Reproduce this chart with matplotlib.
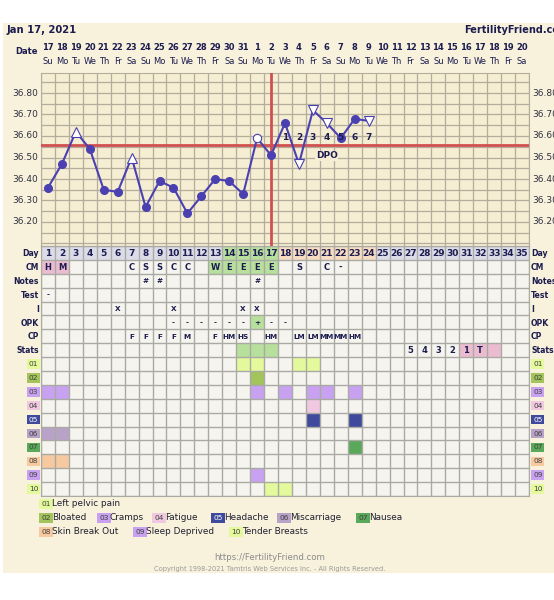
#! /usr/bin/env python3
# -*- coding: utf-8 -*-
import matplotlib
matplotlib.use("Agg")
import matplotlib.pyplot as plt
from matplotlib.patches import Rectangle
from matplotlib.transforms import blended_transform_factory

# ---- data ----
dates = [17, 18, 19, 20, 21, 22, 23, 24, 25, 26, 27, 28, 29, 30, 31,
         1, 2, 3, 4, 5, 6, 7, 8, 9, 10, 11, 12, 13, 14, 15, 16, 17, 18, 19, 20]
weekdays = ["Su", "Mo", "Tu", "We", "Th", "Fr", "Sa"] * 5
cycle_days = list(range(1, 36))

temp_days = list(range(1, 25))
temps = [36.36, 36.47, 36.62, 36.54, 36.35, 36.34, 36.50, 36.27, 36.39, 36.36,
         36.24, 36.32, 36.40, 36.39, 36.33, 36.59, 36.51, 36.66, 36.47, 36.72,
         36.66, 36.59, 36.68, 36.67]
# f = filled circle, up/dn = open triangle, oc = open circle
temp_marks = ["f", "f", "up", "f", "f", "f", "up", "f", "f", "f", "f", "f", "f",
              "f", "f", "oc", "f", "f", "dn", "dn", "dn", "f", "f", "dn"]
temp_ticks = [36.80, 36.70, 36.60, 36.50, 36.40, 36.30, 36.20]
coverline = 36.56
ovulation_day = 17
dpo_days = [18, 19, 20, 21, 22, 23, 24]
dpo_labels = ["1", "2", "3", "4", "5", "6", "7"]

row_names = ["Day", "CM", "Notes", "Test", "I", "OPK", "CP", "Stats"]
cm = {1: "H", 2: "M", 7: "C", 8: "S", 9: "S", 10: "C", 11: "C", 13: "W", 14: "E",
      15: "E", 16: "E", 17: "E", 19: "S", 21: "C", 22: "-"}
cm_pink = [1, 2]
cm_green = [13, 14, 15, 16, 17]
notes = {8: "#", 9: "#", 16: "#"}
test = {1: "-"}
intercourse = {6: "X", 10: "X", 15: "X", 16: "X"}
opk = {10: "-", 11: "-", 12: "-", 13: "-", 14: "-", 15: "-", 16: "+", 17: "-", 18: "-"}
opk_green = [16]
cp = {7: "F", 8: "F", 9: "F", 10: "F", 11: "M", 13: "F", 14: "HM", 15: "HS",
      17: "HM", 19: "LM", 20: "LM", 21: "MM", 22: "MM", 23: "HM"}
stats = {27: "5", 28: "4", 29: "3", 30: "2", 31: "1", 32: "T"}
stats_pink = [31, 32, 33]
stats_green = [15, 16, 17]
fertile_days = [14, 15, 16, 17]
luteal_days = [18, 19, 20, 21, 22, 23, 24]

symptom_codes = ["01", "02", "03", "04", "05", "06", "07", "08", "09", "10"]
symptom_names = ["Left pelvic pain", "Bloated", "Cramps", "Fatigue", "Headache",
                 "Miscarriage", "Nausea", "Skin Break Out", "Sleep Deprived", "Tender Breasts"]
symptom_colors = ["#e4f89c", "#a2c45a", "#c8a2f0", "#f0c8e0", "#3f4a9c",
                  "#b8a2c8", "#5aa85a", "#f6c9a0", "#c8a2f0", "#e4f89c"]
symptom_days = [[15, 16, 19, 20], [16], [1, 2, 16, 18, 20, 21, 23], [20], [20, 23],
                [1, 2], [23], [1, 2], [16], [17, 18]]

# ---- styles ----
W, H = 554, 600
NAVY = "#1c1c50"
CREAM = "#f8f2dc"
TEMPBG = "#f5eed3"
GRID = "#b4ad9c"
LINE = "#4a40b0"
RED = "#d05050"
PINK = "#ebbccf"
GREEN = "#b6e09c"
PEACH = "#f8dcc2"
DAYGREY = "#dcdce8"


def fx(px):
    return px / W


def fy(py):
    return 1 - py / H


fig = plt.figure(figsize=(W / 100, H / 100), dpi=100)
fig.patch.set_facecolor("white")
fig.patches.append(Rectangle((fx(3), fy(573)), 1, fy(23) - fy(573),
                             transform=fig.transFigure, facecolor=CREAM,
                             edgecolor="none", zorder=-10))

x0, x1 = 41, 529
t_top, t_bot = 73, 246
g_bot = 496

# ---- temperature chart ----
ax = fig.add_axes([fx(x0), fy(t_bot), fx(x1) - fx(x0), fy(t_top) - fy(t_bot)])
ax.set_facecolor(TEMPBG)
ax.set_xlim(0.5, 35.5)
ax.set_ylim(36.80 - (t_bot - 93) / 215, 36.80 - (t_top - 93) / 215)
ax.set_xticks([d + 0.5 for d in range(0, 36)])
ax.set_yticks([36.10 + 0.05 * k for k in range(16)])
ax.grid(True, color=GRID, lw=0.9)
ax.tick_params(length=0, labelleft=False, labelbottom=False)
for s in ax.spines.values():
    s.set_color(GRID)

ax.axhline(coverline, color=RED, lw=2, zorder=3)
ax.axvline(ovulation_day, color=RED, lw=2, zorder=3)
ax.plot(temp_days, temps, color=LINE, lw=1.5, zorder=4)
for d, t, m in zip(temp_days, temps, temp_marks):
    if m == "f":
        ax.plot(d, t, "o", ms=5.5, color=LINE, zorder=5)
    elif m == "oc":
        ax.plot(d, t, "o", ms=6, mfc="white", mec=LINE, mew=0.8, zorder=5)
    elif m == "up":
        ax.plot(d, t, "^", ms=7, mfc="white", mec=LINE, mew=0.8, zorder=5)
    else:
        ax.plot(d, t, "v", ms=7, mfc="white", mec=LINE, mew=0.8, zorder=5)
for d, lab in zip(dpo_days, dpo_labels):
    ax.text(d, 36.595, lab, ha="center", va="center", fontsize=6.5,
            fontweight="bold", color=NAVY, zorder=6)
ax.text(21, 36.508, "DPO", ha="center", va="center", fontsize=6.5,
        fontweight="bold", color=NAVY, zorder=6,
        bbox=dict(facecolor=TEMPBG, edgecolor="none", pad=0.5))
for t in temp_ticks:
    ax.text(0.5 - 0.2, t, "%.2f" % t, ha="right", va="center", fontsize=6.5, color="#303040")
    ax.text(35.5 + 0.25, t, "%.2f" % t, ha="left", va="center", fontsize=6.5,
            color="#303040", clip_on=False)

# header above the chart
tr = blended_transform_factory(ax.transData, fig.transFigure)
for d, dt, wd in zip(cycle_days, dates, weekdays):
    ax.text(d, fy(47.5), str(dt), transform=tr, ha="center", va="center",
            fontsize=6, fontweight="bold", color=NAVY)
    ax.text(d, fy(61.5), wd, transform=tr, ha="center", va="center",
            fontsize=6, color=NAVY)
fig.text(fx(38), fy(51.5), "Date", ha="right", va="center", fontsize=6,
         fontweight="bold", color=NAVY)
fig.text(fx(7), fy(30), "Jan 17, 2021", ha="left", va="center", fontsize=7.2,
         fontweight="bold", color=NAVY)
fig.text(fx(464), fy(30), "FertilityFriend.com", ha="left", va="center",
         fontsize=7, fontweight="bold", color=NAVY)

# ---- table below ----
n_rows = len(row_names) + len(symptom_codes)
tb = fig.add_axes([fx(x0), fy(g_bot), fx(x1) - fx(x0), fy(t_bot) - fy(g_bot)])
tb.set_facecolor("#f5f4ee")
tb.set_xlim(0.5, 35.5)
tb.set_ylim(n_rows, 0)
tb.set_xticks([d + 0.5 for d in range(0, 36)])
tb.set_yticks(list(range(n_rows + 1)))
tb.grid(True, color="#aaaaa4", lw=1.0)
tb.set_axisbelow(False)
tb.tick_params(length=0, labelleft=False, labelbottom=False)
for s in tb.spines.values():
    s.set_color("#aaaaa4")


def fill(days, row, color):
    tb.bar(days, 1, bottom=row, width=1, color=color, lw=0, zorder=0.5)


day_colors = [GREEN if d in fertile_days else PEACH if d in luteal_days else DAYGREY
              for d in cycle_days]
tb.bar(cycle_days, 1, bottom=0, width=1, color=day_colors, lw=0, zorder=0.5)
fill(cm_pink, 1, PINK)
fill(cm_green, 1, GREEN)
fill(opk_green, 5, GREEN)
fill(stats_pink, 7, PINK)
fill(stats_green, 7, GREEN)
for i, days in enumerate(symptom_days):
    fill(days, 8 + i, symptom_colors[i])

for d in cycle_days:
    tb.text(d, 0.55, str(d), ha="center", va="center", fontsize=6.5,
            fontweight="bold", color=NAVY)
for row, dct in enumerate([cm, notes, test, intercourse, opk, cp, stats], start=1):
    for d, s in dct.items():
        fs = 6 if row in (1, 7) else 5.2
        tb.text(d, row + 0.55, s, ha="center", va="center", fontsize=fs,
                fontweight="bold", color=NAVY)

for r, name in enumerate(row_names):
    tb.text(0.5 - 0.15, r + 0.55, name, ha="right", va="center", fontsize=5.6,
            fontweight="bold", color=NAVY)
    tb.text(35.5 + 0.15, r + 0.55, name, ha="left", va="center", fontsize=5.6,
            fontweight="bold", color=NAVY, clip_on=False)
for i, code in enumerate(symptom_codes):
    tc = "white" if code == "05" else "#404040"
    tb.text(0.5 - 0.2, 8 + i + 0.5, code, ha="right", va="center", fontsize=5.3,
            color=tc, bbox=dict(facecolor=symptom_colors[i], edgecolor="none", pad=1.2))
    tb.text(35.5 + 0.3, 8 + i + 0.5, code, ha="left", va="center", fontsize=5.3,
            color=tc, clip_on=False,
            bbox=dict(facecolor=symptom_colors[i], edgecolor="none", pad=1.2))

# ---- symptom legend ----
legend_rows = [[0], [1, 2, 3, 4, 5, 6], [7, 8, 9]]
legend_x = [[40], [40, 98, 153, 212, 278, 357], [40, 134, 230]]
for r, (idxs, xs) in enumerate(zip(legend_rows, legend_x)):
    y = 504 + 14 * r
    for i, px in zip(idxs, xs):
        tc = "white" if symptom_codes[i] == "05" else "#404040"
        fig.text(fx(px + 1.5), fy(y), symptom_codes[i], ha="left", va="center",
                 fontsize=5.3, color=tc,
                 bbox=dict(facecolor=symptom_colors[i], edgecolor="none", pad=1.5))
        fig.text(fx(px + 12), fy(y), symptom_names[i], ha="left", va="center",
                 fontsize=6.4, color="#202030")

fig.text(fx(270), fy(558), "https://FertilityFriend.com", ha="center", va="center",
         fontsize=6.2, color="#8a8a8a")
fig.text(fx(270), fy(569), "Copyright 1998-2021 Tamtris Web Services Inc. - All Rights Reserved.",
         ha="center", va="center", fontsize=4.8, color="#9a9a9a")

fig.savefig("out.png", dpi=100, facecolor=fig.get_facecolor())
